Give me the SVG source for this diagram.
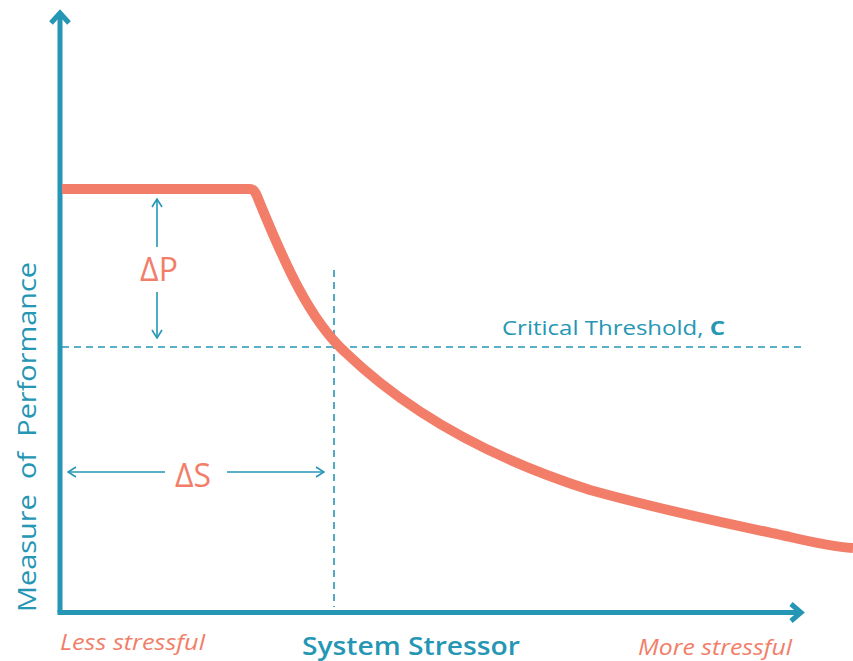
<svg xmlns="http://www.w3.org/2000/svg" width="853" height="661" viewBox="0 0 853 661">
<style>
.axis{stroke:#2596b4;stroke-width:5;fill:none}
.head{stroke:#2596b4;stroke-width:5;fill:none;stroke-linejoin:miter;stroke-linecap:butt}
.dash{stroke:#2596b4;stroke-width:1.6;stroke-dasharray:7 5;fill:none}
.thin{stroke:#2596b4;stroke-width:1.6;fill:none}
.curve{stroke:#f27e6a;stroke-width:10;fill:none;stroke-linejoin:round}
.t{font-family:"Open Sans",Lato,sans-serif}
.teal{fill:#2596b4}
.sal{fill:#f27e6a}
</style>
<defs>
<marker id="open" viewBox="0 0 12 12" refX="11" refY="6" markerWidth="12" markerHeight="12" markerUnits="userSpaceOnUse" orient="auto-start-reverse">
<path d="M3,1 L11,6 L3,11" fill="none" stroke="#2596b4" stroke-width="1.6"/>
</marker>
</defs>
<g id="connectors">
<line class="axis" x1="60" y1="12" x2="60" y2="612.5"/>
<polyline class="head" points="51,23 60,13 69,23"/>
<line class="axis" x1="57.5" y1="612.5" x2="802" y2="612.5"/>
<polyline class="head" points="791,604 801,612.5 791,621"/>
<line class="dash" x1="62" y1="347" x2="802" y2="347"/>
<line class="dash" x1="334" y1="270" x2="334" y2="607"/>
<line class="thin" x1="157" y1="247" x2="157" y2="199" marker-end="url(#open)"/>
<line class="thin" x1="157" y1="292" x2="157" y2="338" marker-end="url(#open)"/>
<line class="thin" x1="165" y1="472" x2="68" y2="472" marker-end="url(#open)"/>
<line class="thin" x1="227" y1="472" x2="324" y2="472" marker-end="url(#open)"/>
</g>
<g id="curve">
<path class="curve" d="M62,189 H250 Q254,189 257,196 C285,265 310,320 345,352 C400,405 480,455 590,490 C680,515 760,530 790,537 C820,544 835,547 853,548"/>
</g>
<g id="labels">
<text class="t sal" x="159" y="281" font-size="32" font-weight="500" text-anchor="middle">ΔP</text>
<text class="t sal" x="193" y="487" font-size="32" font-weight="500" text-anchor="middle">ΔS</text>
<text class="t teal" x="502" y="335" font-size="20" font-weight="500" textLength="223" lengthAdjust="spacingAndGlyphs">Critical Threshold, <tspan font-weight="bold">C</tspan></text>
<text class="t teal" x="302" y="655" font-size="25" font-weight="600" textLength="218" lengthAdjust="spacingAndGlyphs">System Stressor</text>
<text class="t sal" x="60" y="650" font-size="21" font-style="italic" textLength="145" lengthAdjust="spacingAndGlyphs">Less stressful</text>
<text class="t sal" x="638" y="655" font-size="21" font-style="italic" textLength="154" lengthAdjust="spacingAndGlyphs">More stressful</text>
<text class="t teal" transform="translate(36,612) rotate(-90)" font-size="26" font-weight="500" word-spacing="7" textLength="350" lengthAdjust="spacingAndGlyphs">Measure of Performance</text>
</g>
</svg>
